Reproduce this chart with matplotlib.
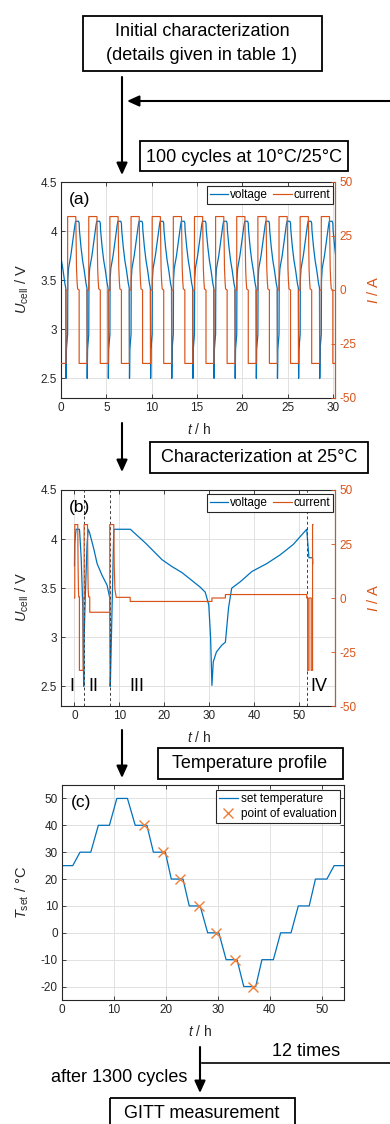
import numpy as np
import matplotlib
matplotlib.use('Agg')
import matplotlib.pyplot as plt
from matplotlib.patches import Rectangle

plt.rcParams['font.family'] = ['Liberation Sans', 'DejaVu Sans']
plt.rcParams['mathtext.fontset'] = 'custom'
plt.rcParams['mathtext.rm'] = 'Liberation Sans'
plt.rcParams['mathtext.it'] = 'Liberation Sans:italic'
plt.rcParams['axes.unicode_minus'] = False

BLUE = '#0072BD'
ORANGE = '#D95319'
TXT = '#262626'

# ---------------- data: panel (a) 100 cycles ----------------
cycle_starts_a = [-1.60, 0.73, 3.06, 5.39, 7.72, 10.05, 12.38, 14.71,
                  17.04, 19.37, 21.70, 24.03, 26.36, 28.69]
cycle_t_v = [0.00, 0.02, 0.10, 0.35, 0.60, 0.80, 0.88, 1.20, 1.27, 1.30,
             1.47, 1.65, 1.83, 2.02, 2.13, 2.16, 2.20, 2.33]
cycle_v = [2.95, 3.50, 3.62, 3.75, 3.92, 4.06, 4.10, 4.10, 4.08, 4.01,
           3.84, 3.70, 3.60, 3.47, 3.42, 2.50, 2.80, 2.95]
cycle_t_i = [0.00, 0.00, 0.90, 0.94, 0.98, 1.04, 1.10, 1.27, 1.27, 2.15, 2.15, 2.33]
cycle_i = [0, 34, 34, 20, 10, 4, 0.5, 0, -34, -34, 0, 0]

# ---------------- data: panel (b) characterization ----------------
t_b_v = [0.00, 0.05, 0.35, 1.10, 1.15, 1.50, 1.85, 2.05, 2.08, 2.15, 2.40,
         2.80, 3.05, 3.33, 4.30, 5.04, 6.15, 7.26, 7.63, 7.85, 7.95, 8.00,
         8.75, 8.90, 12.44, 15.8, 19.5, 21.7, 23.9, 26.1, 28.0, 29.1, 29.9,
         30.3, 30.6, 30.9, 31.6, 32.8, 33.6, 34.3, 35.0, 36.9, 39.5, 42.8,
         45.8, 48.7, 51.7, 52.2, 53.0, 53.05]
v_b = [3.73, 3.95, 4.10, 4.10, 4.08, 3.80, 3.30, 2.50, 2.50, 3.00, 3.40,
       3.95, 4.10, 4.07, 3.90, 3.75, 3.63, 3.53, 3.45, 3.40, 2.50, 2.55,
       4.08, 4.10, 4.10, 3.96, 3.79, 3.72, 3.66, 3.58, 3.51, 3.46, 3.33,
       3.00, 2.51, 2.75, 2.85, 2.92, 2.95, 3.30, 3.50, 3.565, 3.67, 3.75,
       3.84, 3.945, 4.10, 3.81, 3.81, 3.75]
t_b_i = [0.00, 0.07, 0.07, 0.73, 0.80, 0.88, 0.95, 1.10, 1.10, 1.93, 1.93,
         2.15, 2.15, 2.90, 2.97, 3.05, 3.15, 3.40, 3.40, 7.85, 7.85, 8.75,
         8.85, 9.00, 9.30, 12.40, 12.40, 30.60, 30.60, 33.60, 33.60, 51.70,
         51.70, 51.90, 51.90, 52.20, 52.20, 52.70, 52.70, 53.00, 53.00, 53.10]
i_b = [0, 0, 34, 34, 15, 4, 0.5, 0.5, -33.5, -33.5, 0, 0, 34, 34, 15, 4,
       0.5, 0.5, -6.6, -6.6, 34, 34, 15, 4, 0.3, 0.3, -1.6, -1.6, 0, 0,
       1.6, 1.6, 0, 0, -33.5, -33.5, 0, 0, -33.5, -33.5, 34, 34]
phase_bounds_b = [2.07, 8.0, 51.7]
phase_labels_b = ['I', 'II', 'III', 'IV']
phase_label_t_b = [-0.5, 4.3, 13.8, 54.4]

# ---------------- data: panel (c) temperature profile ----------------
t_c = [0.0, 2.07, 3.47, 5.54, 7.0, 9.13, 10.56, 12.6, 14.1, 16.35, 17.6,
       19.9, 21.04, 23.3, 24.5, 26.6, 28.05, 30.2, 31.6, 33.7, 35.0, 37.3,
       38.5, 40.7, 42.1, 44.1, 45.5, 47.6, 48.8, 51.0, 52.4, 54.3]
T_c = [25, 25, 30, 30, 40, 40, 50, 50, 40, 40, 30, 30, 20, 20, 10, 10, 0,
       0, -10, -10, -20, -20, -10, -10, 0, 0, 10, 10, 20, 20, 25, 25]
eval_t = [15.7, 19.4, 22.8, 26.3, 29.7, 33.3, 36.7]
eval_T = [40, 30, 20, 10, 0, -10, -20]

# ---------------- figure ----------------
W, H = 390, 1124
fig = plt.figure(figsize=(W / 100, H / 100), dpi=100)
fig.patch.set_facecolor('white')


def ax_rect(l, t, r, b):
    return [l / W, 1 - b / H, (r - l) / W, (b - t) / H]


# overlay for flowchart (pixel coordinates)
ov = fig.add_axes([0, 0, 1, 1])
ov.set_xlim(0, W)
ov.set_ylim(H, 0)
ov.axis('off')


def box(x0, y0, x1, y1):
    ov.add_patch(Rectangle((x0, y0), x1 - x0, y1 - y0, fill=False,
                           ec='black', lw=1.3, clip_on=False))


def arrow(x0, y0, x1, y1):
    ov.annotate('', xy=(x1, y1), xytext=(x0, y0),
                arrowprops=dict(arrowstyle='-|>,head_length=0.55,head_width=0.25',
                                lw=1.5, color='black',
                                mutation_scale=13, shrinkA=0, shrinkB=0))


box(83, 16, 322, 71)
ov.text(202, 31, 'Initial characterization', ha='center', va='center', fontsize=13)
ov.text(202, 56, '(details given in table 1)', ha='center', va='center', fontsize=13)
arrow(122, 77, 122, 175)
arrow(392, 101, 127, 101)
box(140, 141, 348, 171)
ov.text(244, 157, '100 cycles at 10°C/25°C', ha='center', va='center', fontsize=13)

arrow(122, 423, 122, 472)
box(150, 442, 368, 473)
ov.text(259, 458, 'Characterization at 25°C', ha='center', va='center', fontsize=13)

arrow(122, 730, 122, 778)
box(158, 748, 343, 779)
ov.text(250, 764, 'Temperature profile', ha='center', va='center', fontsize=13)

arrow(200, 1047, 200, 1093)
ov.plot([202, 392], [1063, 1063], color='black', lw=1.2, clip_on=False)
ov.text(306, 1051, '12 times', ha='center', va='center', fontsize=13)
ov.text(119, 1078, 'after 1300 cycles', ha='center', va='center', fontsize=13)
box(110, 1098, 295, 1135)
ov.text(202, 1114, 'GITT measurement', ha='center', va='center', fontsize=13)


def style_common(ax):
    ax.set_facecolor('white')
    ax.grid(True, color='#e1e1e1', lw=0.7)
    ax.set_axisbelow(True)
    for s in ax.spines.values():
        s.set_linewidth(0.8)
        s.set_color(TXT)


def dual_panel(rect, tag, xlim, xticks, tv, vv, ti, ii):
    ax = fig.add_axes(rect)
    style_common(ax)
    ax.set_xlim(*xlim)
    ax.set_ylim(2.3, 4.5)
    ax.set_xticks(xticks)
    ax.set_yticks([2.5, 3, 3.5, 4, 4.5])
    ax.set_yticklabels(['2.5', '3', '3.5', '4', '4.5'])
    ax.tick_params(axis='both', direction='in', length=3, width=0.6,
                   labelsize=8.5, colors=TXT, pad=3)
    ax.tick_params(axis='x', top=True)
    ax.tick_params(axis='y', right=False)
    ln1, = ax.plot(tv, vv, color=BLUE, lw=0.9)
    ax2 = ax.twinx()
    ax2.set_ylim(-50, 50)
    ax2.set_yticks([-50, -25, 0, 25, 50])
    ax2.tick_params(axis='y', direction='in', length=3, width=0.6,
                    labelsize=8.5, colors=ORANGE, pad=3)
    ax2.spines['right'].set_color(ORANGE)
    ax2.spines['right'].set_linewidth(0.8)
    for s in ['left', 'top', 'bottom']:
        ax2.spines[s].set_visible(False)
    ln2, = ax2.plot(ti, ii, color=ORANGE, lw=0.85)
    ax.text(0.03, 0.955, tag, transform=ax.transAxes, ha='left', va='top',
            fontsize=12.5, color='black')
    ax2.legend([ln1, ln2], ['voltage', 'current'], loc='upper right',
               bbox_to_anchor=(0.993, 0.982), borderaxespad=0, ncol=2,
               fontsize=8.5, frameon=True, fancybox=False, edgecolor=TXT,
               framealpha=1, handlelength=1.6, handletextpad=0.15,
               columnspacing=0.4, borderpad=0.25)
    ax2.get_legend().get_frame().set_linewidth(0.8)
    return ax, ax2


# panel (a)
tv_a = np.concatenate([s + np.array(cycle_t_v) for s in cycle_starts_a])
vv_a = np.tile(cycle_v, len(cycle_starts_a))
ti_a = np.concatenate([s + np.array(cycle_t_i) for s in cycle_starts_a])
ii_a = np.tile(cycle_i, len(cycle_starts_a))
axa, axa2 = dual_panel(ax_rect(61, 182, 335, 398), '(a)', (0, 30.2),
                       [0, 5, 10, 15, 20, 25, 30], tv_a, vv_a, ti_a, ii_a)
fig.text(22 / W, 1 - 289 / H, r'$U_{\rm cell}$ / V', rotation=90,
         ha='center', va='center', fontsize=10.5, color=TXT)
fig.text(374 / W, 1 - 290 / H, r'$I$ / A', rotation=90, ha='center',
         va='center', fontsize=10.5, color=ORANGE)
fig.text(199 / W, 1 - 429 / H, r'$t$ / h', ha='center', va='center',
         fontsize=10, color=TXT)

# panel (b)
axb, axb2 = dual_panel(ax_rect(61, 490, 335, 706), '(b)', (-3, 58),
                       [0, 10, 20, 30, 40, 50], t_b_v, v_b, t_b_i, i_b)
for tb in phase_bounds_b:
    axb.axvline(tb, color='#404040', lw=0.7, ls=(0, (3, 2.5)))
for lab, tl in zip(phase_labels_b, phase_label_t_b):
    axb.text(tl, 2.5, lab, ha='center', va='center', fontsize=13, color='black')
fig.text(22 / W, 1 - 597 / H, r'$U_{\rm cell}$ / V', rotation=90,
         ha='center', va='center', fontsize=10.5, color=TXT)
fig.text(374 / W, 1 - 598 / H, r'$I$ / A', rotation=90, ha='center',
         va='center', fontsize=10.5, color=ORANGE)
fig.text(199 / W, 1 - 737 / H, r'$t$ / h', ha='center', va='center',
         fontsize=10, color=TXT)

# panel (c)
axc = fig.add_axes(ax_rect(62, 785, 344, 1000))
style_common(axc)
axc.set_xlim(0, 54.3)
axc.set_ylim(-25, 55)
axc.set_xticks([0, 10, 20, 30, 40, 50])
axc.set_yticks([-20, -10, 0, 10, 20, 30, 40, 50])
axc.tick_params(axis='both', direction='in', length=3, width=0.6,
                labelsize=8.5, colors=TXT, pad=3, top=True, right=True)
lc1, = axc.plot(t_c, T_c, color=BLUE, lw=0.9, label='set temperature')
lc2, = axc.plot(eval_t, eval_T, ls='none', marker='x', ms=7, mew=1.0,
                color='#EE7F3B', label='point of evaluation')
axc.text(0.03, 0.955, '(c)', transform=axc.transAxes, ha='left', va='top',
         fontsize=12.5, color='black')
leg = axc.legend(loc='upper right', bbox_to_anchor=(0.986, 0.976),
                 borderaxespad=0, fontsize=8.5, frameon=True, fancybox=False,
                 edgecolor=TXT, framealpha=1, handlelength=1.6,
                 handletextpad=0.3, borderpad=0.25, labelspacing=0.25)
leg.get_frame().set_linewidth(0.8)
fig.text(22 / W, 1 - 893 / H, r'$T_{\rm set}$ / °C', rotation=90,
         ha='center', va='center', fontsize=10.5, color=TXT)
fig.text(200 / W, 1 - 1032 / H, r'$t$ / h', ha='center', va='center',
         fontsize=10, color=TXT)

fig.savefig('out.png', dpi=100, facecolor='white')
